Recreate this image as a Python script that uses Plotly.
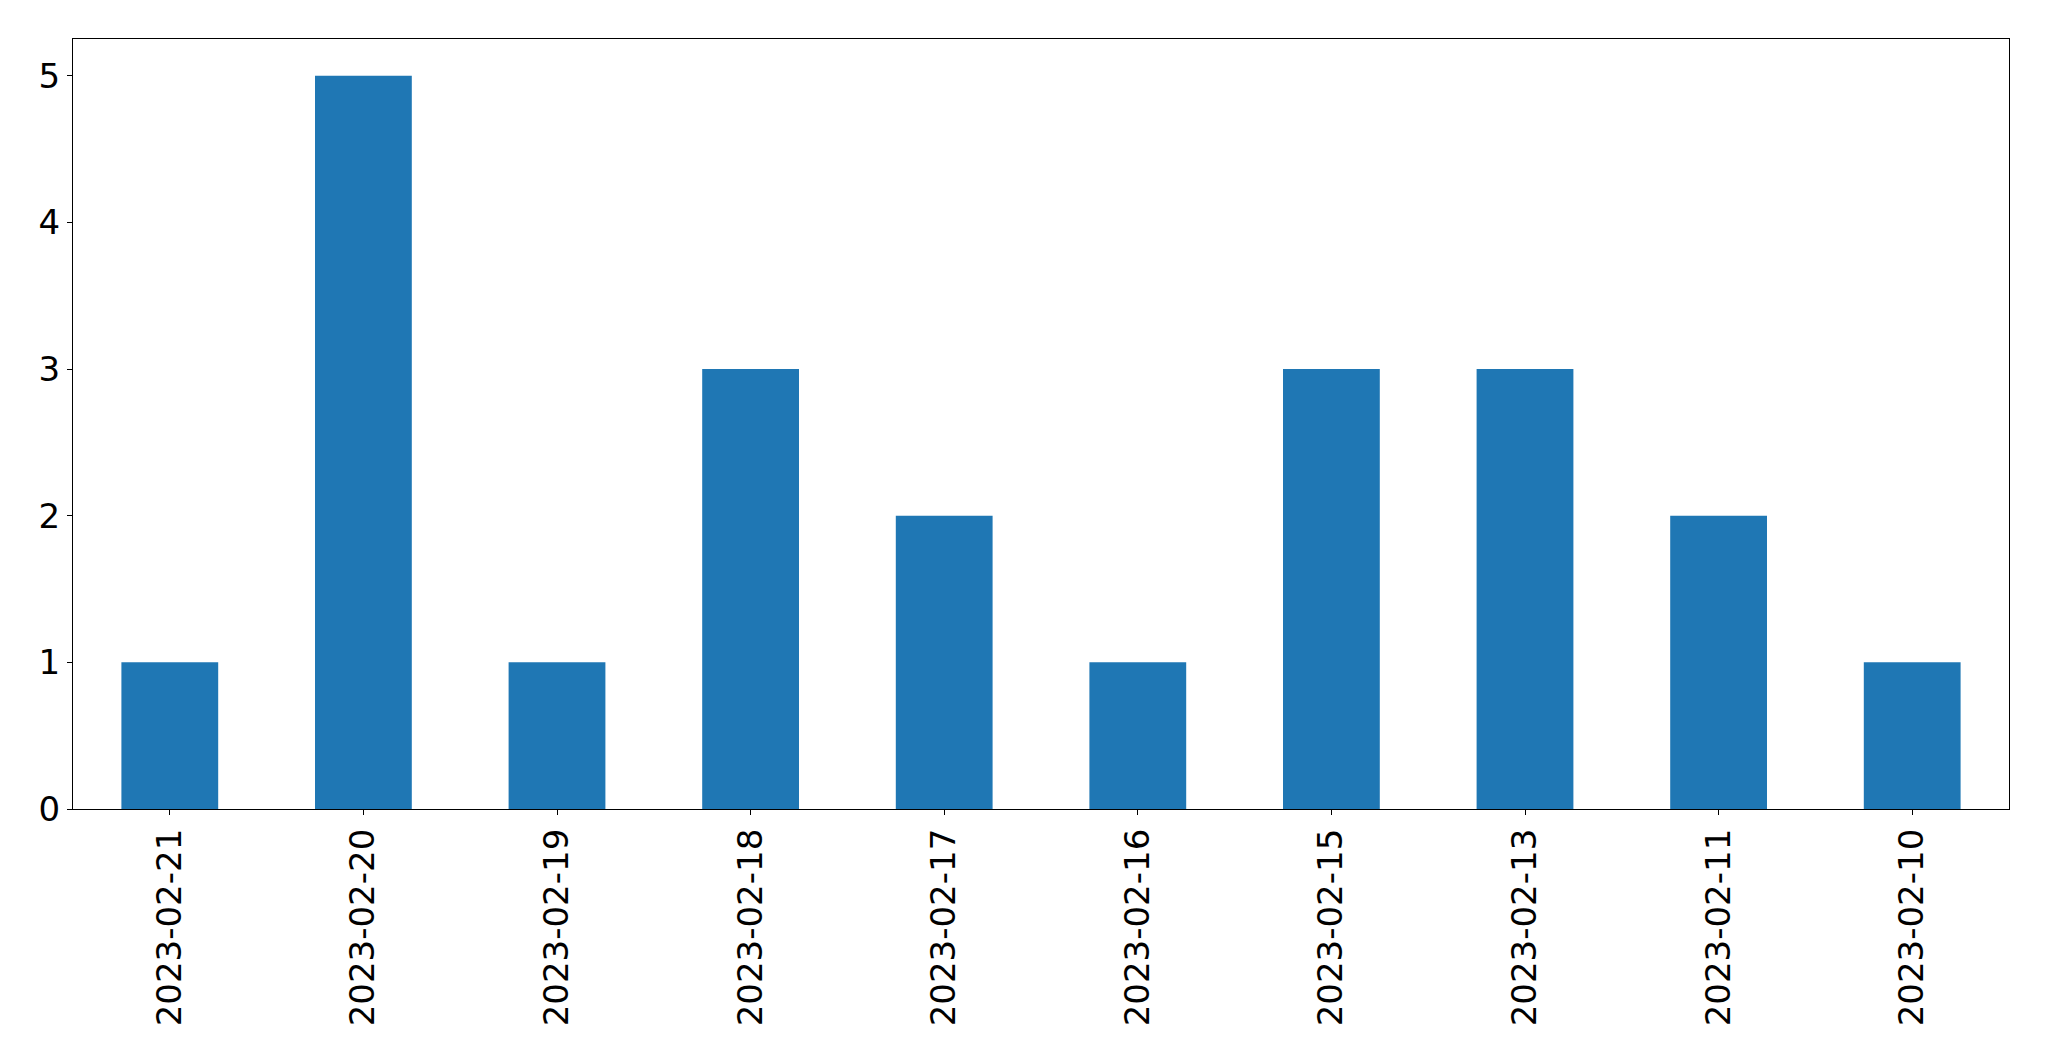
import plotly.graph_objects as go

dates = ["2023-02-21", "2023-02-20", "2023-02-19", "2023-02-18", "2023-02-17",
         "2023-02-16", "2023-02-15", "2023-02-13", "2023-02-11", "2023-02-10"]
counts = [1, 5, 1, 3, 2, 1, 3, 3, 2, 1]
y_ticks = [0, 1, 2, 3, 4, 5]

fig = go.Figure(go.Bar(x=dates, y=counts, marker=dict(color="#1f77b4", line=dict(width=0)),
                       width=0.5))

# page body has an 8px margin, so the figure is offset by 8px
fig.update_layout(
    width=2041, height=1053,
    margin=dict(l=65, r=40, t=31, b=252, autoexpand=False),
    plot_bgcolor="white", paper_bgcolor="white",
    font=dict(family="DejaVu Sans", size=34, color="black"),
    showlegend=False,
)
fig.update_xaxes(type="category", range=[-0.5, 9.5], tickangle=-90,
                 showline=True, linecolor="black", linewidth=1.3, mirror=True,
                 ticks="outside", ticklen=5, tickwidth=1.3, tickcolor="black",
                 showgrid=False, zeroline=False)
fig.update_yaxes(range=[0, 5.25], tickvals=y_ticks,
                 showline=True, linecolor="black", linewidth=1.3, mirror=True,
                 ticks="outside", ticklen=5, tickwidth=1.3, tickcolor="black",
                 showgrid=False, zeroline=False)

fig.write_html("out.html")
